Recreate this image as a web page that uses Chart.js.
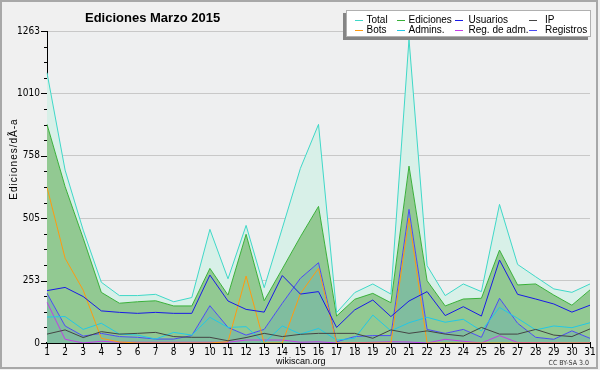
<!DOCTYPE html>
<html><head><meta charset="utf-8">
<script src="https://cdn.jsdelivr.net/npm/chart.js@4"></script>
<style>html,body{margin:0;padding:0;background:#f0f0f0}canvas{display:block}</style>
</head><body><canvas id="c" width="600" height="370"></canvas>
<script>
const days = ['1','2','3','4','5','6','7','8','9','10','11','12','13','14','15','16','17','18','19','20','21','22','23','24','25','26','27','28','29','30','31'];
const total = [1094,700,457,246,192,192,197,167,184,460,260,476,224,465,707,885,123,204,239,198,1230,313,192,239,208,561,318,268,219,205,239];
const ediciones = [885,633,424,205,161,167,171,150,150,302,194,440,171,300,430,553,109,177,201,163,716,252,150,178,181,376,235,239,194,153,215];
const usuarios = [212,225,188,130,124,120,124,120,120,275,170,136,125,273,198,208,63,134,174,107,170,208,111,147,109,336,197,178,158,125,153];
const ip = [36,53,22,46,36,39,43,26,23,23,9,22,39,26,35,39,39,39,19,53,39,49,36,28,63,36,36,55,32,26,57];
const bots = [630,343,214,19,4,0,0,0,0,0,5,271,0,0,200,302,0,0,0,0,505,0,0,0,0,0,0,0,0,0,0];
const admins = [105,107,55,80,36,32,16,43,32,104,63,66,1,69,36,59,12,19,113,49,82,104,84,96,49,144,100,53,69,62,82];
const regAdm = [165,15,0,7,3,3,3,3,3,3,3,12,12,12,3,5,0,1,3,5,4,0,15,7,0,30,2,2,1,0,1];
const registros = [201,69,28,39,26,23,16,16,30,151,63,32,55,161,262,325,5,26,30,30,541,55,39,55,23,181,80,23,15,49,19];
const yTickLabels = ['0','253','505','758','1010','1263'];
const yMax = 1263;
const titleText = 'Ediciones Marzo 2015';
const yTitle = 'Ediciones/dÃ-a';

const NARROW = '"Liberation Sans Narrow","DejaVu Sans Condensed","Liberation Sans",sans-serif';
Chart.defaults.font.family = '"Liberation Sans",Arial,sans-serif';

function ds(label, data, color, extra) {
  return Object.assign({label, data, borderColor: color, backgroundColor: color, borderWidth: 1,
    pointRadius: 0, tension: 0, fill: false}, extra || {});
}
const datasets = [
  ds('Total', total, '#3fd8c8', {fill: 1, backgroundColor: '#d8f0e8'}),
  ds('Ediciones', ediciones, '#38b038', {fill: 7, backgroundColor: '#92c992'}),
  ds('Usuarios', usuarios, '#1a1ae6'),
  ds('IP', ip, '#444444'),
  ds('Bots', bots, '#ff9a10'),
  ds('Admins.', admins, '#22c8e6'),
  ds('Reg. de adm.', regAdm, '#c23ee6'),
  ds('Registros', registros, '#4a4af2', {fill: 'origin', backgroundColor: '#80bd9f'})
];

const deco = {
  id: 'deco',
  beforeDraw(chart) {
    const {ctx, chartArea: a} = chart;
    ctx.save();
    ctx.fillStyle = '#f0f0f0'; ctx.fillRect(0, 0, 600, 370);
    ctx.fillStyle = '#eeeff0'; ctx.fillRect(a.left, a.top, a.right - a.left, a.bottom - a.top);
    ctx.restore();
  },
  afterDraw(chart) {
    const {ctx} = chart;
    const ys = chart.scales.y, xs = chart.scales.x;
    ctx.save();
    ctx.strokeStyle = '#000'; ctx.lineWidth = 1;
    ctx.beginPath();
    ys.ticks.forEach((t, i) => {
      const y = Math.round(ys.getPixelForTick(i)) + 0.5;
      const L = i % 4 === 0 ? 6 : 3;
      ctx.moveTo(ys.right - L, y); ctx.lineTo(ys.right, y);
    });
    xs.ticks.forEach((t, i) => {
      const x = Math.round(xs.getPixelForTick(i)) + 0.5;
      ctx.moveTo(x, xs.top); ctx.lineTo(x, xs.top + 5);
    });
    ctx.stroke();
    // frame
    ctx.strokeStyle = '#a8a8a8'; ctx.lineWidth = 2;
    ctx.strokeRect(1, 1, 596, 367);
    // title
    ctx.fillStyle = '#000';
    ctx.font = 'bold 13px "Liberation Sans",Arial,sans-serif';
    ctx.textAlign = 'left'; ctx.textBaseline = 'alphabetic';
    ctx.fillText(titleText, 85, 22);
    // y title
    ctx.save();
    ctx.translate(14, 159); ctx.rotate(-Math.PI / 2);
    ctx.font = '10px "Liberation Sans",Arial,sans-serif';
    ctx.letterSpacing = '1px';
    ctx.textAlign = 'center'; ctx.textBaseline = 'middle';
    ctx.fillText(yTitle, 0, 0);
    ctx.restore();
    // footers
    ctx.font = '9px "Liberation Sans",Arial,sans-serif';
    ctx.textAlign = 'left';
    ctx.fillText('wikiscan.org', 276, 364);
    ctx.font = '7px ' + NARROW;
    ctx.textAlign = 'right';
    ctx.fillStyle = '#333';
    ctx.fillText('CC BY-SA 3.0', 589, 365);
    // legend box
    ctx.fillStyle = '#858585';
    ctx.fillRect(343, 13, 245, 27);
    ctx.fillStyle = '#ffffff';
    ctx.fillRect(346, 10, 245, 27);
    ctx.strokeStyle = '#b0b0b0'; ctx.lineWidth = 1;
    ctx.strokeRect(346.5, 10.5, 244, 26);
    const cols = [[355, 366.5], [397, 408.5], [455, 468.5], [529, 545]];
    const rows = [19.5, 29.5];
    ctx.font = '10px "Liberation Sans",Arial,sans-serif';
    ctx.textAlign = 'left'; ctx.textBaseline = 'middle';
    chart.data.datasets.forEach((d, i) => {
      const c = cols[i % 4], y = rows[Math.floor(i / 4)];
      ctx.strokeStyle = d.borderColor; ctx.lineWidth = 1;
      ctx.beginPath(); ctx.moveTo(c[0], Math.round(y) + 0.5); ctx.lineTo(c[0] + 8, Math.round(y) + 0.5); ctx.stroke();
      ctx.fillStyle = '#000';
      ctx.fillText(d.label, c[1], y + 0.5);
    });
    ctx.restore();
  }
};

new Chart(document.getElementById('c'), {
  type: 'line',
  data: {labels: days, datasets},
  plugins: [deco],
  options: {
    responsive: false,
    animation: false,
    layout: {padding: {left: 0, right: 10, top: 31, bottom: 0}},
    plugins: {
      legend: {display: false},
      title: {display: false},
      tooltip: {enabled: false},
      filler: {drawTime: 'beforeDatasetsDraw', propagate: false}
    },
    scales: {
      x: {
        offset: false,
        grid: {display: false, drawTicks: false},
        border: {display: true, color: '#000', width: 2},
        ticks: {autoSkip: false, maxRotation: 0, padding: 3, color: '#000',
          font: {family: NARROW, size: 10}},
        afterFit(s) { s.height = 27; }
      },
      y: {
        min: 0, max: yMax,
        afterBuildTicks(s) {
          const t = [];
          for (let i = 0; i <= 20; i++) t.push({value: yMax * i / 20});
          s.ticks = t;
        },
        grid: {drawTicks: false, color: (c) => (c.index % 4 === 0 ? '#c8c8c8' : 'rgba(0,0,0,0)'), lineWidth: 1},
        border: {display: true, color: '#000', width: 1},
        ticks: {padding: 7, color: '#000', font: {family: NARROW, size: 10},
          callback: (v, i) => (i % 4 === 0 ? yTickLabels[i / 4] : '')},
        afterFit(s) { s.width = 47; }
      }
    }
  }
});
</script>
</body></html>
